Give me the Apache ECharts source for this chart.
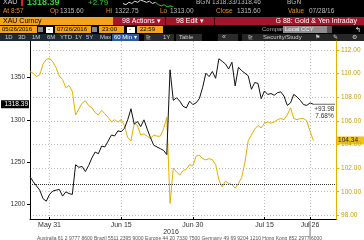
<!DOCTYPE html>
<html><head><meta charset="utf-8">
<script src="https://cdn.jsdelivr.net/npm/echarts@6/dist/echarts.min.js"></script>
<style>html,body{margin:0;padding:0;background:#fff;overflow:hidden}#c{width:364px;height:240px}</style>
</head><body><div id="c"></div>
<script>
// ---- data ----
const days = ['05/26','05/27','05/30','05/31','06/01','06/02','06/03','06/06','06/07','06/08','06/09','06/10',
  '06/13','06/14','06/15','06/16','06/17','06/20','06/21','06/22','06/23','06/24','06/27','06/28','06/29','06/30',
  '07/01','07/04','07/05','07/06','07/07','07/08','07/11','07/12','07/13','07/14','07/15','07/18','07/19','07/20',
  '07/21','07/22','07/25','07/26','07/27','07/28','07/29'];
const tickDates = ['05/31','06/15','06/30','07/15','07/26'];
const tickLabels = ['May 31','Jun 15','Jun 30','Jul 15','Jul 26'];
const yearLabel = '2016';
// gold (XAU) half-day readings, left axis
const gold = [1233,1227,1222,1217,1207,1204,1212,1216,1217,1218,
  1210,1215,1213,1212,1247,1244,1245,1239,1246,1255,
  1262,1260,1269,1268,1275,1282,1281,1287,1286,1290,
  1300,1313,1295,1298,1292,1300,1289,1279,1270,1268,
  1266,1264,1259,1359,1323,1326,1322,1316,1314,1322,
  1318,1320,1325,1338,1355,1351,1357,1349,1372,1369,
  1366,1360,1368,1340,1362,1358,1355,1352,1336,1344,
  1343,1325,1334,1330,1331,1329,1332,1333,1328,1317,
  1320,1330,1327,1323,1318,1317,1320,1318.39];
// yen half-day readings, right axis
const yen = [110.16,110.03,109.75,109.9,110.8,111.2,111.3,111.0,110.5,109.8,
  109.5,108.8,109.0,108.5,106.5,107.0,107.5,107.7,107.3,107.1,
  106.7,106.5,106.9,106.6,106.3,105.9,106.1,105.9,106.1,105.6,
  104.6,104.3,105.8,105.6,104.8,104.9,104.7,104.5,104.8,104.7,
  104.7,105.3,106.3,99.0,102.0,101.7,101.4,101.8,101.9,102.3,
  102.2,103.0,103.1,102.8,102.7,102.8,102.7,102.3,101.0,100.4,
  100.9,100.7,100.6,100.3,100.7,101.2,102.5,104.3,104.8,105.3,
  105.6,105.4,105.8,105.9,105.8,105.9,106.1,106.2,106.1,106.5,
  107.1,106.2,106.1,106.2,106.2,106.0,105.1,104.34];
const goldTicks = [1200,1250,1300,1350];
const yenTicks = [98,100,102,104,106,108,110,112];
const goldStart = 1224.41;
const goldLastLabel = '1318.39';
const yenLastLabel = '104.34';
const goldChange = '+93.98';
const goldPct = '7.68%';
const spark = [4,3,5,4,6,5,7,6,5,6,4,5,3,2,3,1,2,1];
const sparkSplit = 11;

// ---- chart ----
const chart = echarts.init(document.getElementById('c'), null, {renderer:'canvas'});
const FONT = '"Liberation Sans", Arial, sans-serif';
const tickPos = tickDates.map(d => days.indexOf(d) * 2);
const YELLOW = '#e3b100';

chart.setOption({
  animation:false,
  backgroundColor:'#fff',
  grid:[
    {left:30, right:24, top:41, bottom:21},
    {left:123, top:0, width:50, height:7}
  ],
  xAxis:[
    {type:'value', gridIndex:0, min:0, max:days.length*2,
     axisLine:{show:true, onZero:false, lineStyle:{color:'#000', width:1}},
     axisTick:{show:true, inside:true, length:2, customValues:tickPos, lineStyle:{color:'#000'}},
     axisLabel:{customValues:tickPos, fontSize:7, fontFamily:FONT, color:'#333', margin:3,
       formatter:v => tickLabels[tickPos.indexOf(v)] || ''},
     splitLine:{show:true, lineStyle:{color:'#bdbdbd', type:[1,2], width:1}}},
    {type:'category', gridIndex:1, show:false, boundaryGap:false, data:spark.map((_,i)=>i)}
  ],
  yAxis:[
    {type:'value', gridIndex:0, position:'left', min:1183, max:1393,
     axisLine:{show:true, lineStyle:{color:'#000', width:1}},
     axisTick:{show:true, length:3, customValues:goldTicks, lineStyle:{color:'#000'}},
     axisLabel:{customValues:goldTicks, fontSize:6.5, fontFamily:FONT, color:'#333', margin:5,
       formatter:v => String(v)},
     splitLine:{show:false}},
    {type:'value', gridIndex:0, position:'right', min:97.69, max:112.76,
     axisLine:{show:true, lineStyle:{color:YELLOW, width:1}},
     axisTick:{show:true, length:3, customValues:yenTicks, lineStyle:{color:YELLOW}},
     axisLabel:{customValues:yenTicks, fontSize:6.5, fontFamily:FONT, color:'#c9a000', margin:5,
       formatter:v => v.toFixed(2)},
     splitLine:{show:true, lineStyle:{color:'#bdbdbd', type:[1,2], width:1}}},
    {type:'value', gridIndex:1, show:false, scale:true}
  ],
  series:[
    {type:'line', xAxisIndex:0, yAxisIndex:1, data:yen.map((v,i)=>[i,v]), showSymbol:false,
     lineStyle:{color:YELLOW, width:1}, z:2},
    {type:'line', xAxisIndex:0, yAxisIndex:0, data:gold.map((v,i)=>[i,v]), showSymbol:false,
     lineStyle:{color:'#111', width:1}, z:3,
     markLine:{silent:true, symbol:'none', label:{show:false},
       lineStyle:{color:'#333', type:[1,1], width:1},
       data:[{yAxis:goldStart}]}},
    {type:'line', xAxisIndex:1, yAxisIndex:2, showSymbol:false,
     data:spark.map((v,i)=> i<=sparkSplit ? v : null), lineStyle:{color:'#ddd', width:1}},
    {type:'line', xAxisIndex:1, yAxisIndex:2, showSymbol:false,
     data:spark.map((v,i)=> i>=sparkSplit ? v : null), lineStyle:{color:'#33cc33', width:1}}
  ]
});

// ---- header & annotations ----
function T(x, y, text, fill, size, extra){
  return {type:'text', x:x, y:y, silent:true,
    style:{text:text, fill:fill, font:(extra&&extra.bold?'bold ':'')+size+'px '+FONT,
      verticalAlign:'middle', align:(extra&&extra.align)||'left'}};
}
function R(x, y, w, h, fill){
  return {type:'rect', silent:true, shape:{x:x, y:y, width:w, height:h}, style:{fill:fill}};
}
const OR = '#e8901c', GR = '#bdbdbd';
const g = [];
g.push(R(0,0,364,41,'#000'));
// row 1
g.push(T(3,2.5,'XAU','#ccc',7));
g.push(R(21,0,2,6,'#e02020'));
g.push(T(27,2.5,'1318.39','#38d038',9,{bold:true}));
g.push(T(88,2.5,'+2.79','#38d038',8));
g.push(T(196,2.5,'BGN',GR,6.5));
g.push(T(212,2.5,'1318.33/1318.46',GR,6.5));
g.push(T(287,2.5,'BGN',GR,6.5));
// row 2
g.push(T(3,11.5,'At 8:57',OR,6.5));
g.push(T(50,11.5,'Op',OR,6.5)); g.push(T(60,11.5,'1315.60',GR,6.5));
g.push(T(106,11.5,'Hi',OR,6.5)); g.push(T(115,11.5,'1322.75',GR,6.5));
g.push(T(160,11.5,'Lo',OR,6.5)); g.push(T(170,11.5,'1313.00',GR,6.5));
g.push(T(216,11.5,'Close',OR,6.5)); g.push(T(237,11.5,'1315.60',GR,6.5));
g.push(T(288,11.5,'Value',OR,6.5)); g.push(T(309,11.5,'07/28/16',GR,6.5));
// row 3
g.push(R(0,17,113,8,'#f5a21e'));
g.push(T(3,21,'XAU Curncy','#000',7));
g.push(R(113,17,251,8,'#a3152c'));
g.push(R(165,17,1,8,'#300'));
g.push(R(214,17,1,8,'#300'));
g.push(T(122,21,'98 Actions ▾','#fff',7));
g.push(T(176,21,'98 Edit ▾','#fff',7));
g.push(T(357,21,'G 88: Gold & Yen Intraday','#fff',7,{align:'right'}));
// row 4
g.push(R(0,26,37,7,'#f5a21e')); g.push(T(2,29.5,'05/26/2016','#000',6));
g.push(R(38,27,5,5,'#888'));
g.push(R(46,27,7,6,'#fff')); g.push(T(48,29.5,'-','#000',6));
g.push(R(55,26,36,7,'#f5a21e')); g.push(T(57,29.5,'07/26/2016','#000',6));
g.push(R(92,27,5,5,'#888'));
g.push(R(99,26,25,7,'#f5a21e')); g.push(T(102,29.5,'23:00','#000',6));
g.push(R(127,27,8,6,'#fff')); g.push(T(129,29.5,'-','#000',6));
g.push(R(137,26,26,7,'#f5a21e')); g.push(T(140,29.5,'22:59','#000',6));
g.push(T(262,29.5,'Compare','#aaa',6));
g.push(R(283,26,44,7,'#8e8e8e')); g.push(T(285,29.5,'Local CCY','#eee',6));
g.push(R(327,26,5,7,'#555'));
g.push(T(355,30,'↰','#fff',7));
// row 5
g.push(R(0,34,111,7,'#1d2a36'));
[['1D',5],['3D',18],['1M',32],['6M',47],['YTD',60],['1Y',75],['5Y',86],['Max',100]].forEach(b=>g.push(T(b[1],37.5,b[0],'#ccc',6)));
g.push(R(112,34,27,7,'#2c5a98')); g.push(T(114,37.5,'60 Min ▾','#fff',6));
g.push(R(144,34,30,7,'#2a2a2a')); g.push(T(146,37.5,'⊵','#ccc',6)); g.push(T(163,37.5,'1Y','#ccc',6));
g.push(R(176,34,26,7,'#2a2a2a')); g.push(T(179,37.5,'Table','#ccc',6));
g.push(R(218,34,20,7,'#2a2a2a')); g.push(T(222,37.5,'«','#ccc',7));
g.push(R(242,34,122,7,'#262626'));
g.push(T(248,37.5,'⊵','#ccc',6));
g.push(T(263,37.5,'Security/Study','#ccc',6));
g.push(T(315,37.5,'⚑','#ccc',6));
g.push(T(333,37.5,'✎','#ccc',6));
g.push(T(352,37.5,'⚙','#ccc',6));

// annotations derived from the axes
const lastI = gold.length - 1;
const pG = chart.convertToPixel({xAxisIndex:0, yAxisIndex:0}, [lastI, gold[lastI]]);
const pY = chart.convertToPixel({xAxisIndex:0, yAxisIndex:1}, [lastI, yen[lastI]]);
const xEnd = chart.convertToPixel({xAxisIndex:0}, days.length*2);
const xLeft = chart.convertToPixel({xAxisIndex:0}, 0);
const xCur = chart.convertToPixel({xAxisIndex:0}, tickPos[tickPos.length-1]);
g.push({type:'line', silent:true, shape:{x1:pG[0], y1:pG[1], x2:xEnd-1, y2:pG[1]}, style:{stroke:'#666', lineWidth:1}});
g.push(T(pG[0]+1, pG[1]+5, goldChange, '#333', 6.5));
g.push(T(pG[0]+2, pG[1]+12, goldPct, '#333', 6.5));
g.push(R(1, pG[1]-4, xLeft-2, 8, '#000'));
g.push(T(xLeft-2, pG[1], goldLastLabel, '#fff', 6.5, {align:'right'}));
g.push(R(xEnd, pY[1]-4, 364-xEnd, 8, '#f0c419'));
g.push(T(xEnd+2, pY[1], yenLastLabel, '#222', 6.5));
g.push({type:'line', silent:true, shape:{x1:xCur, y1:221, x2:xCur, y2:240}, style:{stroke:'#777', lineWidth:1}});
g.push(T(171, 232, yearLabel, '#333', 7, {align:'center'}));
g.push(T(37, 238.5, 'Australia 61 2 9777 8600 Brazil 5511 2395 9000 Europe 44 20 7330 7500 Germany 49 69 9204 1210 Hong Kong 852 2977 6000', '#555', 5));

chart.setOption({graphic:{elements:g}});
</script>
</body></html>
